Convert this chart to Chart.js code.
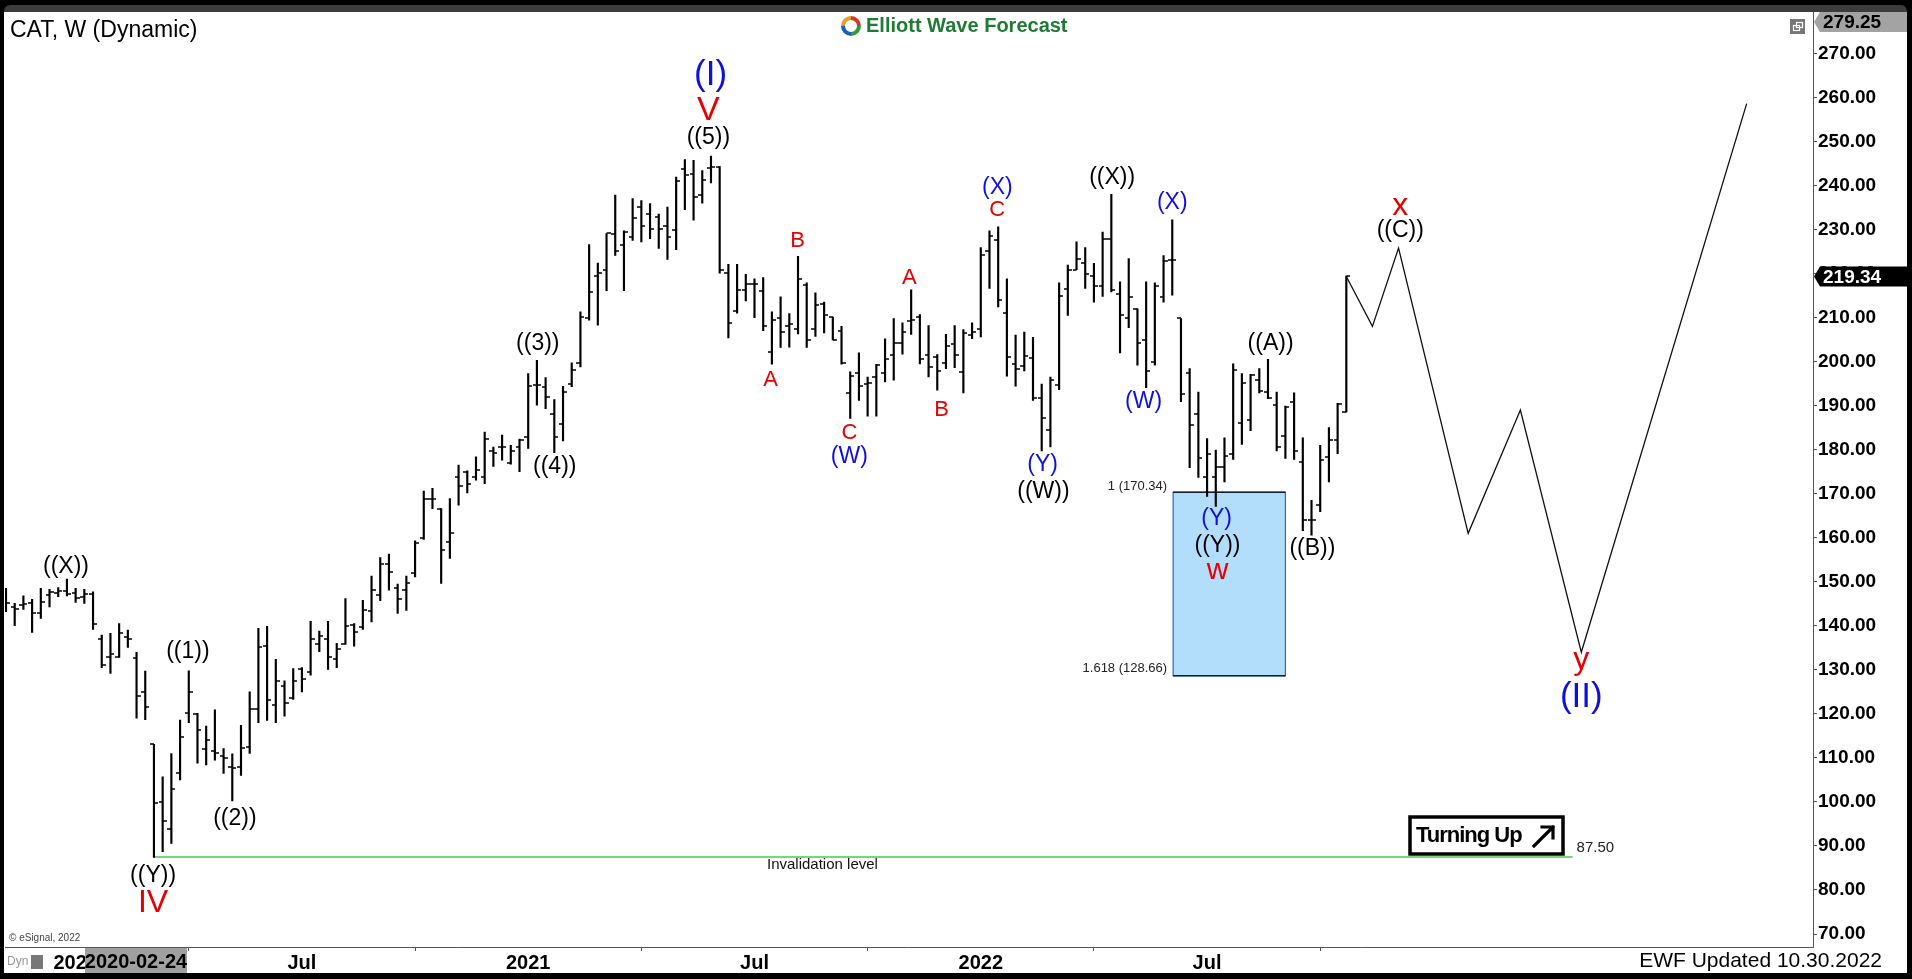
<!DOCTYPE html>
<html><head><meta charset="utf-8">
<script src="https://cdn.jsdelivr.net/npm/chart.js@4.4.0/dist/chart.umd.min.js"></script>
<style>html,body{margin:0;padding:0;background:#000;overflow:hidden}#wrap{width:1912px;height:979px;position:relative}canvas{display:block}</style>
</head><body><div id="wrap"><canvas id="c" width="1912" height="979"></canvas></div>
<script>
// Weekly OHLC bars (index 1..155)
const opens = [145.4,144.2,144.7,145.1,143.0,147.0,147.5,147.8,147.5,146.5,147.3,136.9,133.0,133.0,137.4,132.6,125.0,113.1,100.0,93.8,
106.5,120.1,120.0,112.0,111.5,110.5,108.0,108.0,112.5,121.0,135.4,122.0,126.3,123.7,130.1,129.4,135.8,137.1,132.4,135.8,
140.1,139.8,143.4,147.0,154.0,148.5,148.1,152.1,160.0,168.7,166.6,159.1,173.8,175.0,173.8,173.8,179.8,180.6,177.0,180.5,
182.9,194.6,194.2,188.0,185.9,195.0,199.7,209.8,219.4,220.7,228.9,226.4,228.2,235.1,233.5,232.8,230.7,230.0,243.8,242.7,
237.8,244.0,244.3,220.1,211.5,216.3,217.6,216.0,202.2,209.8,208.2,207.3,217.3,207.3,213.0,210.1,207.0,192.9,197.4,195.0,
196.4,197.4,201.4,204.2,209.2,210.1,201.4,201.1,199.7,203.9,197.7,206.0,207.3,225.1,227.7,211.0,199.4,199.0,200.9,191.8,
184.4,194.6,216.6,220.9,222.4,219.4,217.1,227.9,215.3,210.0,212.0,205.0,199.9,214.7,223.0,209.8,197.3,188.0,173.8,173.7,
176.1,179.0,186.1,186.8,195.8,193.1,190.1,183.0,190.9,177.2,164.0,167.4,178.4,182.3,188.6];
const highs = [148.5,145.1,146.8,146.0,148.5,148.3,148.7,150.6,148.5,148.3,147.7,137.9,138.3,140.5,139.0,134.0,129.7,113.1,105.7,111.0,
118.6,129.8,120.1,117.2,120.9,112.1,110.9,117.4,125.0,139.4,139.9,132.4,127.5,130.3,130.5,141.0,138.8,141.0,136.0,146.2,
140.5,145.8,151.3,155.5,156.3,149.5,151.3,159.3,170.6,171.2,166.6,168.9,176.5,175.2,178.4,184.0,180.6,183.3,181.0,182.4,
197.3,200.3,196.4,191.4,194.4,199.7,211.3,226.6,222.4,229.1,237.8,229.7,237.0,236.6,235.9,233.5,235.1,241.9,245.9,245.7,
243.4,246.7,244.3,222.1,222.1,219.8,218.8,219.1,211.3,214.7,210.9,223.9,217.9,215.6,213.5,210.1,208.0,197.7,202.0,196.5,
199.4,205.2,209.8,208.8,216.3,210.7,208.2,201.6,206.2,208.2,207.3,208.8,225.9,229.7,230.6,218.8,206.0,206.7,205.5,194.9,
196.5,217.9,221.9,227.2,225.9,222.3,229.4,238.0,218.1,223.4,212.0,218.1,217.9,224.1,232.2,209.8,198.4,193.1,182.5,179.9,
182.7,199.5,197.3,197.1,198.4,200.5,193.1,189.9,192.9,182.7,168.5,181.0,185.0,190.5,219.4];
const lows = [143.2,140.0,143.7,138.5,141.7,144.3,146.6,146.8,145.3,145.1,139.2,130.5,129.2,132.8,135.1,119.0,118.7,87.4,88.7,90.6,
105.0,118.0,108.8,108.4,109.5,106.5,100.2,106.0,111.0,118.0,118.5,118.0,119.5,123.3,125.0,128.8,134.1,130.1,130.5,135.8,
135.4,139.2,140.9,145.7,148.1,142.8,143.5,151.1,159.6,166.6,149.6,155.3,167.4,170.2,173.1,172.3,176.2,177.6,176.7,175.0,
180.3,190.1,189.3,179.3,182.0,194.3,198.8,209.4,208.3,216.1,224.1,216.1,227.5,227.2,227.9,225.7,223.2,225.4,234.5,232.1,
236.0,240.6,220.1,205.4,211.0,213.8,210.0,207.0,199.4,203.2,203.3,206.3,203.2,205.7,206.5,204.9,199.4,187.1,191.2,187.6,
187.6,195.4,195.8,201.7,206.2,199.5,196.5,193.5,198.4,198.6,192.9,205.2,205.6,216.6,212.4,196.7,194.4,197.9,191.2,179.7,
180.6,193.6,210.5,220.9,216.6,213.5,214.8,215.8,202.0,207.7,199.2,194.1,199.2,213.5,215.1,190.9,175.9,173.7,169.4,167.1,
172.7,177.8,181.2,184.3,192.9,191.6,179.7,178.0,177.8,161.6,160.6,165.9,172.7,179.1,188.6];
const closes = [145.2,143.9,144.9,142.9,145.5,147.7,147.9,147.3,146.3,147.3,140.4,131.1,133.6,138.3,137.1,124.1,121.5,99.7,95.7,103.0,
114.8,125.0,116.3,114.0,111.0,110.0,107.8,112.2,121.0,135.2,123.1,127.4,122.4,127.5,128.0,136.9,137.6,132.8,134.8,139.9,
138.5,143.7,148.2,154.0,152.3,146.0,149.8,158.8,168.7,168.7,157.2,161.1,171.7,172.3,175.3,182.5,179.2,180.6,179.7,182.1,
194.4,194.6,192.0,182.9,193.1,198.0,210.1,215.8,220.2,229.1,225.1,229.4,232.7,230.7,230.2,230.2,228.2,241.0,242.3,237.4,
241.2,244.2,220.7,208.8,216.3,217.7,217.6,208.0,209.5,206.7,208.5,218.8,205.0,212.8,210.5,204.9,199.7,196.7,194.4,195.2,
199.2,200.7,204.2,206.7,209.4,200.5,198.8,197.9,203.5,201.4,206.4,206.7,224.1,228.5,214.1,201.1,198.4,201.2,191.8,187.1,
195.8,214.8,220.9,223.4,219.8,217.1,227.9,216.3,210.5,214.7,204.2,197.9,217.1,222.9,223.0,192.6,185.6,178.2,179.1,176.1,
178.5,198.2,195.2,196.9,193.3,191.8,180.6,189.7,179.7,164.1,164.1,177.6,182.3,190.3,219.34];

// Projected path (bar index, price)
const projX = [155, 158, 161, 169, 175, 182, 201];
const projY = [219.34, 208.0, 225.8, 161.0, 189.0, 134.0, 258.6];

// Invalidation level
const invX = [18, 181];
const invY = [87.5, 87.5];

// Blue target box (bar index range, price range)
const boxX = [135.1, 148.0];
const boxY = [128.66, 170.34];

// Axis ticks
const xTickIdx = [9, 35, 61, 87, 113, 139];
const xTickText = ['2020', 'Jul', '2021', 'Jul', '2022', 'Jul'];
const yTickVals = [70,80,90,100,110,120,130,140,150,160,170,180,190,200,210,220,230,240,250,260,270];
const lastPrice = 219.34;
const topPrice = 279.25;

const R = '#e80000', B = '#1010dd', K = '#000000';
// Wave labels: text, bar index, price, colour, font size
const waveLabels = [
 ['(I)', 81.96, 265.0, B, 35], ['V', 81.7, 257.1, R, 34], ['((5))', 81.7, 250.9, K, 23],
 ['((X))', 7.89, 153.4, K, 23], ['((1))', 21.9, 134.1, K, 23], ['((2))', 27.3, 96.2, K, 23],
 ['((Y))', 17.9, 83.2, K, 23], ['IV', 17.9, 77.0, R, 32],
 ['((3))', 62.1, 204.0, K, 23], ['((4))', 64.05, 176.1, K, 23],
 ['B', 91.95, 227.5, R, 22], ['A', 88.85, 195.8, R, 22], ['C', 97.9, 183.7, R, 22], ['(W)', 97.9, 178.4, B, 23],
 ['A', 104.8, 219.1, R, 22], ['B', 108.5, 189.0, R, 22], ['(X)', 114.9, 239.4, B, 23], ['C', 114.9, 234.4, R, 22],
 ['(Y)', 120.1, 176.5, B, 23], ['((W))', 120.2, 170.4, K, 23], ['((X))', 128.1, 241.7, K, 23],
 ['(X)', 135.0, 236.2, B, 23], ['(W)', 131.7, 190.8, B, 23],
 ['(Y)', 140.1, 164.3, B, 23], ['((Y))', 140.2, 158.2, K, 23], ['w', 140.2, 152.6, R, 30],
 ['((A))', 146.3, 204.0, K, 23], ['((B))', 151.1, 157.5, K, 23],
 ['x', 161.2, 235.2, R, 32], ['((C))', 161.2, 229.7, K, 23],
 ['y', 182.0, 132.1, R, 32], ['(II)', 182.0, 123.8, B, 35]
];

const FONT = "'Liberation Sans', Arial, sans-serif";

function tickImg(side) {
  const c = document.createElement('canvas');
  c.width = 8; c.height = 2;
  const g = c.getContext('2d');
  g.fillStyle = '#000';
  if (side === 'L') g.fillRect(0, 0.25, 4, 1.5); else g.fillRect(4, 0.25, 4, 1.5);
  return c;
}
const openImg = tickImg('L'), closeImg = tickImg('R');

const idx = opens.map((_, i) => i + 1);

const deco = {
  id: 'deco',
  beforeDraw(chart) {
    const ctx = chart.ctx;
    ctx.save();
    ctx.fillStyle = '#000'; ctx.fillRect(0, 0, 1912, 979);
    ctx.fillStyle = '#3c3c3c';
    ctx.beginPath(); ctx.roundRect(4, 5, 1903, 14, 6); ctx.fill();
    ctx.fillStyle = '#fff'; ctx.fillRect(4, 12, 1903, 961);
    ctx.restore();
  },
  beforeDatasetsDraw(chart) {
    const ctx = chart.ctx, xs = chart.scales.x, ys = chart.scales.y;
    const x0 = xs.getPixelForValue(boxX[0]), x1 = xs.getPixelForValue(boxX[1]);
    const y0 = ys.getPixelForValue(boxY[1]), y1 = ys.getPixelForValue(boxY[0]);
    ctx.save();
    ctx.fillStyle = '#b2ddfb';
    ctx.fillRect(x0, y0, x1 - x0, y1 - y0);
    ctx.strokeStyle = '#2a6fb5'; ctx.lineWidth = 1.2;
    ctx.strokeRect(x0, y0, x1 - x0, y1 - y0);
    ctx.strokeStyle = '#102030'; ctx.lineWidth = 1.5;
    ctx.beginPath(); ctx.moveTo(x0, y0); ctx.lineTo(x1, y0); ctx.moveTo(x0, y1); ctx.lineTo(x1, y1); ctx.stroke();
    ctx.fillStyle = '#222'; ctx.font = '13px ' + FONT; ctx.textAlign = 'right'; ctx.textBaseline = 'middle';
    ctx.fillText('1 (' + boxY[1].toFixed(2) + ')', x0 - 6, y0 - 6);
    ctx.fillText('1.618 (' + boxY[0].toFixed(2) + ')', x0 - 6, y1 - 7);
    ctx.restore();
  },
  afterDatasetsDraw(chart) {
    const ctx = chart.ctx, xs = chart.scales.x, ys = chart.scales.y;
    ctx.save();
    ctx.textAlign = 'center'; ctx.textBaseline = 'middle';
    for (const [t, i, p, col, sz] of waveLabels) {
      ctx.fillStyle = col; ctx.font = sz + 'px ' + FONT;
      ctx.fillText(t, xs.getPixelForValue(i), ys.getPixelForValue(p));
    }
    // invalidation texts
    const iy = ys.getPixelForValue(invY[0]);
    ctx.fillStyle = '#111';
    ctx.font = "15px 'Liberation Sans Narrow', " + FONT;
    ctx.textAlign = 'left';
    ctx.fillText('Invalidation level', 767, iy + 8);
    ctx.font = '15px ' + FONT; ctx.fillStyle = '#222';
    ctx.fillText(invY[0].toFixed(2), xs.getPixelForValue(invX[1]) + 4, iy - 9);
    // Turning Up box
    ctx.strokeStyle = '#000'; ctx.lineWidth = 3.5;
    ctx.strokeRect(1410, 817, 153, 37);
    ctx.fillStyle = '#000'; ctx.font = 'bold 22px ' + FONT;
    if ('letterSpacing' in ctx) ctx.letterSpacing = '-1px';
    ctx.textAlign = 'left';
    ctx.fillText('Turning Up', 1416, 836);
    if ('letterSpacing' in ctx) ctx.letterSpacing = '0px';
    ctx.lineWidth = 3.2; ctx.lineCap = 'square';
    ctx.beginPath();
    ctx.moveTo(1534, 846); ctx.lineTo(1553, 827);
    ctx.moveTo(1542, 827); ctx.lineTo(1553, 827); ctx.lineTo(1553, 838);
    ctx.stroke();
    // eSignal
    ctx.font = '10px ' + FONT; ctx.fillStyle = '#444'; ctx.textAlign = 'left';
    ctx.fillText('\u00a9 eSignal, 2022', 9, 938);
    ctx.restore();
  },
  afterDraw(chart) {
    const ctx = chart.ctx, ys = chart.scales.y;
    ctx.save();
    // title
    ctx.fillStyle = '#000'; ctx.font = '23px ' + FONT; ctx.textAlign = 'left'; ctx.textBaseline = 'middle';
    ctx.fillText('CAT, W (Dynamic)', 10, 31);
    // logo
    const cx = 851, cy = 26;
    const cols = ['#2e9a44', '#1f5fb0', '#e0a020', '#d23a2a'];
    for (let k = 0; k < 4; k++) {
      ctx.beginPath(); ctx.strokeStyle = cols[k]; ctx.lineWidth = 4;
      ctx.arc(cx, cy, 8, k * Math.PI / 2, (k + 1) * Math.PI / 2); ctx.stroke();
    }
    ctx.fillStyle = '#1f7a35'; ctx.font = 'bold 20px ' + FONT;
    ctx.fillText('Elliott Wave Forecast', 866, 26);
    // small window icon
    ctx.fillStyle = '#777'; ctx.fillRect(1790, 19, 15, 15);
    ctx.strokeStyle = '#fff'; ctx.lineWidth = 1.2;
    ctx.strokeRect(1793.5, 25.5, 6, 5); ctx.strokeRect(1796.5, 22.5, 6, 5);
    // price tags
    function tag(price, bg, fg, yc) {
      const y = yc !== undefined ? yc : ys.getPixelForValue(price);
      ctx.fillStyle = bg;
      ctx.beginPath();
      ctx.moveTo(1814, y); ctx.lineTo(1820, y - 10); ctx.lineTo(1907, y - 10);
      ctx.lineTo(1907, y + 10); ctx.lineTo(1820, y + 10); ctx.closePath(); ctx.fill();
      ctx.fillStyle = fg; ctx.font = 'bold 19px ' + FONT; ctx.textAlign = 'left';
      ctx.fillText(price.toFixed(2), 1823, y + 1);
    }
    tag(topPrice, '#a3a3a3', '#000', 22);
    tag(lastPrice, '#000', '#fff');
    // date highlight
    ctx.fillStyle = '#a0a0a0'; ctx.fillRect(85, 948, 102, 25);
    ctx.fillStyle = '#000'; ctx.font = 'bold 20px ' + FONT; ctx.textAlign = 'center';
    ctx.fillText('2020-02-24', 136, 962);
    // Dyn
    ctx.fillStyle = '#9a9a9a'; ctx.font = '12px ' + FONT; ctx.textAlign = 'left';
    ctx.fillText('Dyn', 7, 962);
    ctx.fillStyle = '#777'; ctx.fillRect(31, 955, 12, 14);
    // updated
    ctx.fillStyle = '#000'; ctx.font = '21px ' + FONT; ctx.textAlign = 'right';
    ctx.fillText('EWF Updated 10.30.2022', 1882, 961);
    ctx.restore();
  }
};

new Chart(document.getElementById('c'), {
  data: {
    datasets: [
      { type: 'bar', data: idx.map((x, i) => ({ x: x, y: [lows[i], highs[i]] })), backgroundColor: '#000',
        barThickness: 1.5, grouped: false, borderWidth: 0, order: 3 },
      { type: 'line', data: idx.map((x, i) => ({ x: x, y: opens[i] })), showLine: false,
        pointStyle: openImg, pointRadius: 2, order: 2 },
      { type: 'line', data: idx.map((x, i) => ({ x: x, y: closes[i] })), showLine: false,
        pointStyle: closeImg, pointRadius: 2, order: 2 },
      { type: 'line', data: projX.map((x, i) => ({ x: x, y: projY[i] })), borderColor: '#111', borderWidth: 1.3,
        pointRadius: 0, tension: 0, order: 1 },
      { type: 'line', data: invX.map((x, i) => ({ x: x, y: invY[i] })), borderColor: '#44cc44', borderWidth: 1.5,
        pointRadius: 0, order: 4 }
    ]
  },
  options: {
    responsive: false, animation: false, devicePixelRatio: 1, events: [],
    layout: { padding: { left: 4, top: 12, right: 5, bottom: 6 } },
    plugins: { legend: { display: false }, tooltip: { enabled: false } },
    scales: {
      x: {
        type: 'linear', position: 'bottom', min: 0.885, max: 208.62, offset: false,
        grid: { display: true, drawOnChartArea: false, drawTicks: true, tickLength: 4, color: '#555' },
        border: { display: true, color: '#555', width: 1 },
        afterBuildTicks: s => { s.ticks = xTickIdx.map(v => ({ value: v })); },
        afterFit: s => { s.height = 26; },
        ticks: { autoSkip: false, maxRotation: 0, minRotation: 0, padding: 0, color: '#000',
          font: { family: FONT, size: 20, weight: 'bold' },
          callback: (v) => { const k = xTickIdx.indexOf(v); return k >= 0 ? xTickText[k] : ''; } }
      },
      y: {
        type: 'linear', position: 'right', min: 67.05, max: 279.31,
        grid: { display: true, drawOnChartArea: false, drawTicks: true, tickLength: 4, color: '#555' },
        border: { display: true, color: '#555', width: 1 },
        afterBuildTicks: s => { s.ticks = yTickVals.map(v => ({ value: v })); },
        afterFit: s => { s.width = 94; },
        ticks: { padding: 1, color: '#000', font: { family: FONT, size: 19, weight: 'bold' },
          callback: v => Number(v).toFixed(2) }
      }
    }
  },
  plugins: [deco]
});
</script>
</body></html>
